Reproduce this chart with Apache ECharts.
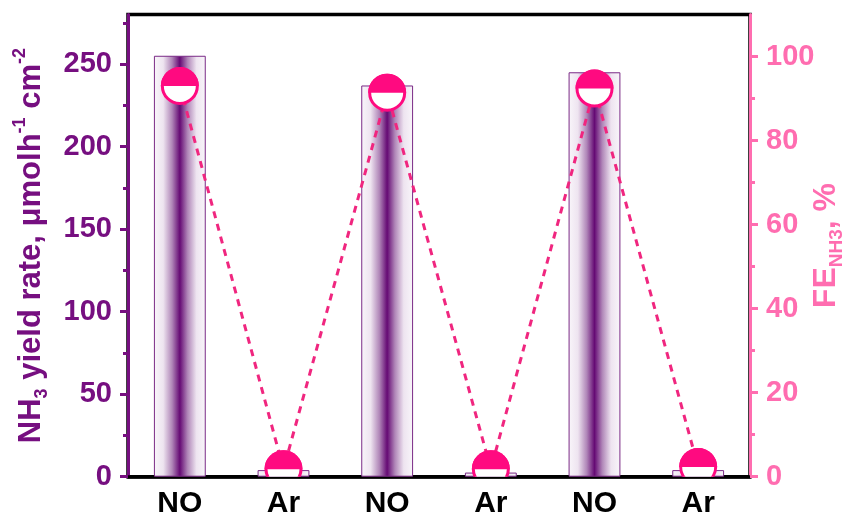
<!DOCTYPE html>
<html>
<head>
<meta charset="utf-8">
<script src="https://cdn.jsdelivr.net/npm/echarts@6/dist/echarts.min.js"></script>
<style>
  html, body { margin: 0; padding: 0; background: #fff; }
  #chart { width: 856px; height: 524px; }
</style>
</head>
<body>
<div id="chart"></div>
<script>
// Feed gas for each electrolysis cycle
const categories = ['NO', 'Ar', 'NO', 'Ar', 'NO', 'Ar'];
// NH3 yield rate, µmol h^-1 cm^-2
const yieldRate = [255, 4, 237, 2.5, 245, 4];
// Faradaic efficiency for NH3, %
const faradaicEff = [93.0, 1.8, 91.4, 1.8, 92.4, 2.3];

// Axis ticks
const leftMajor = [0, 50, 100, 150, 200, 250];
const leftMinor = [25, 75, 125, 175, 225, 275];
const rightMajor = [0, 20, 40, 60, 80, 100];
const rightMinor = [10, 30, 50, 70, 90];

const PURPLE = '#760f80';
const PINK_AXIS = '#ff6db0';
const PINK = '#ff0a80';
const PINK_LINE = '#f0267f';
const FONT = '"Liberation Sans", Arial, Helvetica, sans-serif';

const chart = echarts.init(document.getElementById('chart'), null, { renderer: 'canvas' });

const barFill = new echarts.graphic.LinearGradient(0, 0, 1, 0, [
  { offset: 0, color: '#f9f6fa' },
  { offset: 0.18, color: '#eee4f0' },
  { offset: 0.35, color: '#b086b8' },
  { offset: 0.5, color: '#650a74' },
  { offset: 0.65, color: '#b086b8' },
  { offset: 0.82, color: '#eee4f0' },
  { offset: 1, color: '#f9f6fa' }
]);

function minorAxis(position, max, values, color) {
  return {
    type: 'value', position: position, offset: 0, min: 0, max: max,
    axisLine: { show: false },
    axisLabel: { show: false },
    splitLine: { show: false },
    axisTick: { show: true, customValues: values, length: 5, lineStyle: { color: color, width: 3 } }
  };
}

const option = {
  animation: false,
  backgroundColor: '#fff',
  grid: {
    left: 128, right: 106, top: 14.5, bottom: 47.3,
    outerBoundsMode: 'none',
    containLabel: false,
    show: true, borderColor: '#000', borderWidth: 3.5, backgroundColor: 'transparent'
  },
  xAxis: {
    type: 'category',
    data: categories,
    boundaryGap: true,
    axisLine: { lineStyle: { color: '#000', width: 3.5 } },
    axisTick: { alignWithLabel: true, length: 6, lineStyle: { color: '#000', width: 3 } },
    axisLabel: { color: '#000', fontSize: 30, fontWeight: 'bold', fontFamily: FONT, margin: 12 },
    splitLine: { show: false }
  },
  yAxis: [
    {
      type: 'value', position: 'left', min: 0, max: 280,
      axisLine: { show: true, lineStyle: { color: PURPLE, width: 3 } },
      axisTick: { show: true, customValues: leftMajor, length: 8, lineStyle: { color: PURPLE, width: 3 } },
      axisLabel: { customValues: leftMajor, color: PURPLE, fontSize: 29, fontWeight: 'bold', fontFamily: FONT, margin: 16 },
      splitLine: { show: false },
      name: '{a|NH}{b|3}{a| yield rate, μmolh}{c|-1}{a| cm}{c|-2}',
      nameLocation: 'middle',
      nameGap: 77,
      nameMoveOverlap: false,
      nameTextStyle: {
        color: PURPLE, fontFamily: FONT, fontWeight: 'bold',
        rich: {
          a: { color: PURPLE, fontSize: 31, fontWeight: 'bold', fontFamily: FONT, lineHeight: 40 },
          b: { color: PURPLE, fontSize: 18, fontWeight: 'bold', fontFamily: FONT, lineHeight: 20, verticalAlign: 'bottom' },
          c: { color: PURPLE, fontSize: 18, fontWeight: 'bold', fontFamily: FONT, lineHeight: 20, verticalAlign: 'top' }
        }
      }
    },
    {
      type: 'value', position: 'right', min: 0, max: 110,
      axisLine: { show: true, lineStyle: { color: PINK_AXIS, width: 3 } },
      axisTick: { show: true, customValues: rightMajor, length: 8, lineStyle: { color: PINK_AXIS, width: 3 } },
      axisLabel: { customValues: rightMajor, color: PINK_AXIS, fontSize: 29, fontWeight: 'bold', fontFamily: FONT, margin: 16 },
      splitLine: { show: false },
      name: '{a|FE}{b|NH3}{a|, %}',
      nameLocation: 'middle',
      nameGap: 56,
      nameMoveOverlap: false,
      nameTextStyle: {
        color: PINK_AXIS, fontFamily: FONT, fontWeight: 'bold',
        rich: {
          a: { color: PINK_AXIS, fontSize: 32, fontWeight: 'bold', fontFamily: FONT, lineHeight: 40 },
          b: { color: PINK_AXIS, fontSize: 19, fontWeight: 'bold', fontFamily: FONT, lineHeight: 20, verticalAlign: 'bottom' }
        }
      }
    },
    minorAxis('left', 280, leftMinor, PURPLE),
    minorAxis('right', 110, rightMinor, PINK_AXIS)
  ],
  series: [
    {
      name: 'yield',
      type: 'bar',
      xAxisIndex: 0, yAxisIndex: 0,
      data: yieldRate,
      barWidth: '50%',
      itemStyle: { color: barFill, borderColor: '#7a2a86', borderWidth: 1 },
      z: 2
    },
    {
      name: 'FE line',
      type: 'line',
      xAxisIndex: 0, yAxisIndex: 1,
      data: faradaicEff,
      showSymbol: false,
      lineStyle: { color: PINK_LINE, width: 3, type: [7, 6] },
      z: 3
    },
    {
      name: 'FE markers',
      type: 'custom',
      xAxisIndex: 0, yAxisIndex: 1,
      clip: true,
      data: faradaicEff.map((v, i) => [i, v]),
      encode: { x: 0, y: 1 },
      z: 4,
      renderItem: function (params, api) {
        const p = api.coord([api.value(0), api.value(1)]);
        const r = 17.5;
        return {
          type: 'group',
          children: [
            {
              type: 'circle',
              shape: { cx: p[0], cy: p[1], r: r },
              style: { fill: '#fff', stroke: PINK, lineWidth: 3 }
            },
            {
              type: 'sector',
              shape: { cx: p[0], cy: p[1], r0: 0, r: r + 1.5, startAngle: Math.PI, endAngle: 2 * Math.PI, clockwise: true },
              style: { fill: PINK }
            }
          ]
        };
      }
    }
  ]
};

chart.setOption(option);
</script>
</body>
</html>
